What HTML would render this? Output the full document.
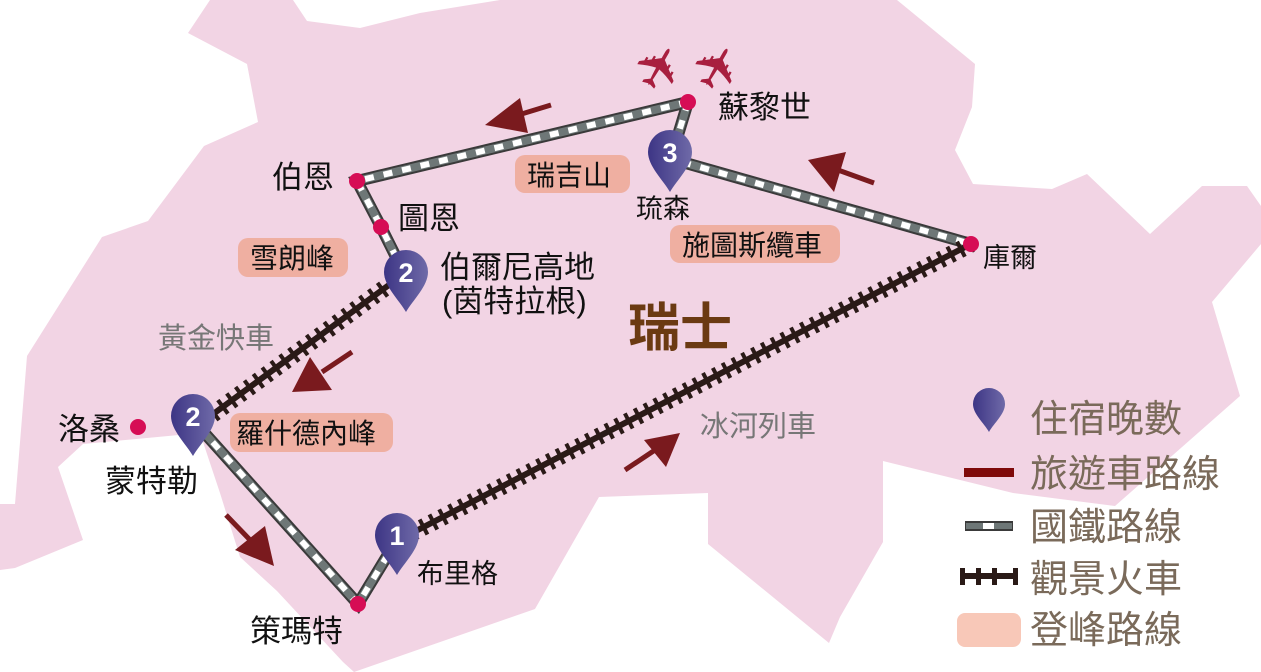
<!DOCTYPE html>
<html><head><meta charset="utf-8"><style>
body{margin:0;width:1261px;height:672px;overflow:hidden;background:#fff;font-family:"Liberation Sans","Noto Sans CJK TC",sans-serif;}
svg{display:block}
text{font-family:"Liberation Sans","Noto Sans CJK TC",sans-serif;}
</style></head><body>
<svg width="1261" height="672" viewBox="0 0 1261 672" xmlns="http://www.w3.org/2000/svg">
<defs>
<linearGradient id="pg" x1="0" x2="1" y1="0" y2="0"><stop offset="0" stop-color="#3d3585"/><stop offset="1" stop-color="#6f6aa8"/></linearGradient>
<path id="pin" d="M0,40 C-7,28 -22,14 -22,0 A22,22 0 1 1 22,0 C22,14 7,28 0,40 Z" fill="url(#pg)"/>
</defs>
<polygon fill="#f2d4e4" points="210,0 293,0 307,21 360,28 420,13 500,0 897,0 975,64 972,107 955,150 973,184 1052,189 1087,174 1150,234 1202,186 1247,186 1261,206 1261,244 1212,302 1240,396 1115,506 1013,493 883,461 883,542 840,617 829,643 708,544 708,493 599,497 535,609 354,672 343,662 277,591 240,557 220,493 200,433 83,444 58,467 83,540 15,568 0,570 0,504 15,504 27,356 102,237 148,221 204,146 258,122 247,64 188,33"/>
<!-- national rail -->
<g fill="none" stroke-linecap="butt">
<g stroke="#3a3a3a" stroke-width="12"><polyline points="688,102 357,181 381,227 405,275"/><polyline points="688,102 678,135"/><polyline points="682,162 971,244"/><polyline points="200,428 358,604 392,548"/></g>
<g stroke="#6e7777" stroke-width="8"><polyline points="688,102 357,181 381,227 405,275"/><polyline points="688,102 678,135"/><polyline points="682,162 971,244"/><polyline points="200,428 358,604 392,548"/></g>
<g stroke="#fff" stroke-width="6" stroke-dasharray="9 10"><polyline points="688,102 357,181 381,227 405,275"/><polyline points="688,102 678,135"/><polyline points="682,162 971,244"/><polyline points="200,428 358,604 392,548"/></g>
</g>
<!-- scenic -->
<g stroke="#2a1a17" fill="none">
<line x1="393" y1="282" x2="205" y2="420" stroke-width="6"/>
<line x1="393" y1="282" x2="205" y2="420" stroke-width="17" stroke-dasharray="4 7"/>
<line x1="412" y1="533" x2="971" y2="244" stroke-width="6"/>
<line x1="412" y1="533" x2="971" y2="244" stroke-width="17" stroke-dasharray="4 7"/>
</g>
<!-- city dots -->
<g fill="#d60d55"><circle cx="688" cy="102" r="8"/><circle cx="357" cy="181" r="8"/><circle cx="381" cy="227" r="8"/><circle cx="971" cy="244" r="8"/><circle cx="138" cy="427" r="8"/><circle cx="358" cy="604" r="8"/></g>
<!-- pins -->
<use href="#pin" x="670" y="152"/>
<use href="#pin" x="406" y="272"/>
<use href="#pin" x="193" y="416"/>
<use href="#pin" x="397" y="535"/>
<g fill="#fff" font-size="27" font-weight="bold" text-anchor="middle"><text x="670" y="162">3</text><text x="406" y="282">2</text><text x="193" y="426">2</text><text x="397" y="545">1</text></g>
<!-- arrows -->
<g stroke="#7a1a1e" stroke-width="5" fill="#7a1a1e">
<line x1="551" y1="105" x2="515" y2="116"/><polygon stroke="none" points="485,125 520,98 528,133"/>
<line x1="874" y1="183" x2="838" y2="170"/><polygon stroke="none" points="808,160 846,152 834,192"/>
<line x1="352" y1="352" x2="322" y2="372"/><polygon stroke="none" points="292,392 310,357 332,390"/>
<line x1="226" y1="515" x2="252" y2="542"/><polygon stroke="none" points="274,566 235,550 265,526"/>
<line x1="625" y1="470" x2="655" y2="450"/><polygon stroke="none" points="680,433 666,467 644,440"/>
</g>
<!-- planes -->
<g fill="#a81f3f" font-size="58" font-family="DejaVu Sans"><text x="0" y="0" transform="translate(660,68) rotate(-60)" text-anchor="middle" dominant-baseline="central">✈</text><text x="0" y="0" transform="translate(718,68) rotate(-60)" text-anchor="middle" dominant-baseline="central">✈</text></g>
<!-- peak boxes -->
<g fill="#efafa1"><rect x="515" y="155" width="115" height="38" rx="10"/><rect x="238" y="238" width="110" height="39" rx="10"/><rect x="230" y="413" width="163" height="39" rx="10"/><rect x="670" y="225" width="170" height="38" rx="10"/></g>
<g font-size="28" fill="#111"><text x="527" y="185">瑞吉山</text><text x="250" y="268">雪朗峰</text><text x="236" y="443">羅什德內峰</text><text x="682" y="255">施圖斯纜車</text></g>
<!-- labels -->
<g fill="#111" font-size="31">
<text x="718" y="118">蘇黎世</text><text x="272" y="188">伯恩</text><text x="398" y="229">圖恩</text>
<text x="440" y="278">伯爾尼高地</text><text x="442" y="312">(茵特拉根)</text>
<text x="58" y="440">洛桑</text><text x="105" y="492">蒙特勒</text><text x="250" y="642">策瑪特</text>
</g>
<g fill="#111" font-size="27"><text x="636" y="218">琉森</text><text x="983" y="267">庫爾</text><text x="417" y="583">布里格</text></g>
<g fill="#777" font-size="29"><text x="158" y="348">黃金快車</text><text x="700" y="436">冰河列車</text></g>
<text x="628" y="346" font-size="52" font-weight="bold" fill="#6b3a12">瑞士</text>
<!-- legend -->
<path d="M989,432 C984,423 973,414 973,404 A16,16 0 1 1 1005,404 C1005,414 994,423 989,432 Z" fill="url(#pg)"/>
<rect x="964" y="468" width="50" height="9" fill="#7f0a0a"/>
<rect x="965" y="521" width="48" height="10" fill="#3a3a3a"/><rect x="966" y="523" width="46" height="6" fill="#6e7777"/><rect x="983" y="523" width="11" height="6" fill="#fff"/>
<g fill="#2a1a17"><rect x="960" y="573" width="58" height="6"/><rect x="960" y="568" width="5" height="17"/><rect x="976" y="568" width="5" height="17"/><rect x="992" y="568" width="5" height="17"/><rect x="1013" y="568" width="5" height="17"/></g>
<rect x="957" y="613" width="64" height="34" rx="8" fill="#f8c8b8"/>
<g fill="#7a6a5a" font-size="38"><text x="1030" y="432">住宿晚數</text><text x="1030" y="487">旅遊車路線</text><text x="1030" y="540">國鐵路線</text><text x="1030" y="592">觀景火車</text><text x="1030" y="643">登峰路線</text></g>
</svg>
</body></html>
